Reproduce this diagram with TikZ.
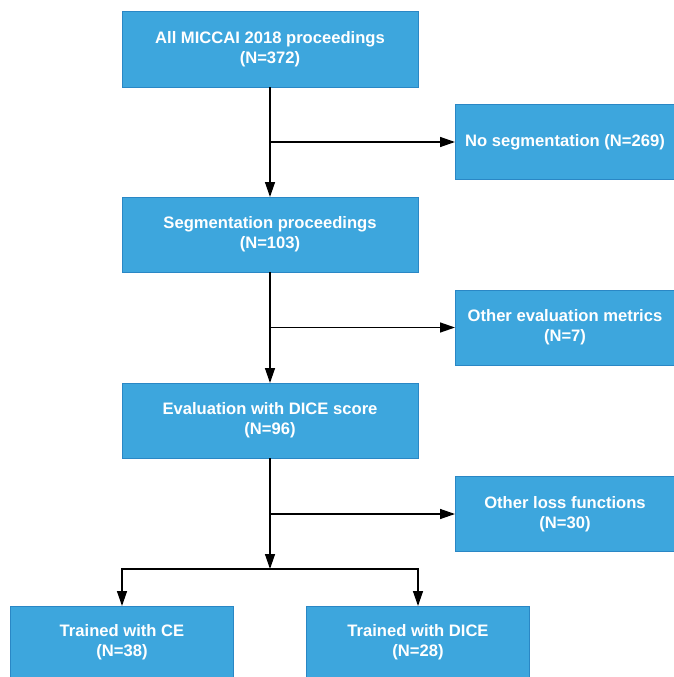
\documentclass[tikz,border=0pt]{standalone}
\usepackage{fontspec}
\setmainfont{Liberation Sans}
\usetikzlibrary{positioning,calc,arrows.meta}
\definecolor{boxblue}{HTML}{3DA6DD}
\definecolor{boxline}{HTML}{2A87C5}

\begin{document}
\begin{tikzpicture}[x=1pt,y=1pt,
        block/.style={draw=boxline,fill=boxblue,line width=1pt,rectangle,minimum width=296pt,minimum height=75pt,
          align=center,text=white,font=\fontsize{16.6}{20}\selectfont\bfseries,outer sep=0pt},
        side/.style={block,minimum width=220pt},
        leaf/.style={block,minimum width=223pt,minimum height=72pt},
        link/.style={line width=1.4pt,-{Triangle[length=15pt,width=10pt]}}]
   \useasboundingbox (0,0) rectangle (673,-677);
   \node[block] (A) at (270,-49.5) {All MICCAI 2018 proceedings\\(N=372)};
   \node[block] (B) [below=110pt of A] {Segmentation proceedings\\(N=103)};
   \node[block] (C) [below=111pt of B] {Evaluation with DICE score\\(N=96)};

   \coordinate (J1) at ($(A.south)!0.5!(B.north)$);
   \coordinate (J2) at ($(B.south)!0.5!(C.north)$);
   \coordinate (J3) at ($(C.south)+(0,-56)$);
   \coordinate (S) at ($(C.south)+(0,-111)$);
   \coordinate (SL) at (S -| C.west);
   \coordinate (SR) at (S -| C.east);

   \node[side] (D) [right=185pt of J1] {No segmentation (N=269)};
   \node[side] (E) [right=185pt of J2] {Other evaluation metrics\\(N=7)};
   \node[side] (F) [right=185pt of J3] {Other loss functions\\(N=30)};

   \node[leaf] (G) [below=37pt of SL] {Trained with CE\\(N=38)};
   \node[leaf] (H) [below=37pt of SR] {Trained with DICE\\(N=28)};

   \draw[link] (A) -- (B);
   \draw[link] (J1) -- (D);
   \draw[link] (B) -- (C);
   \draw[link] (J2) -- (E);
   \draw[link] (C) -- (S);
   \draw[link] (J3) -- (F);
   \draw[link] (S) -| (G);
   \draw[link] (S) -| (H);
\end{tikzpicture}
\end{document}
